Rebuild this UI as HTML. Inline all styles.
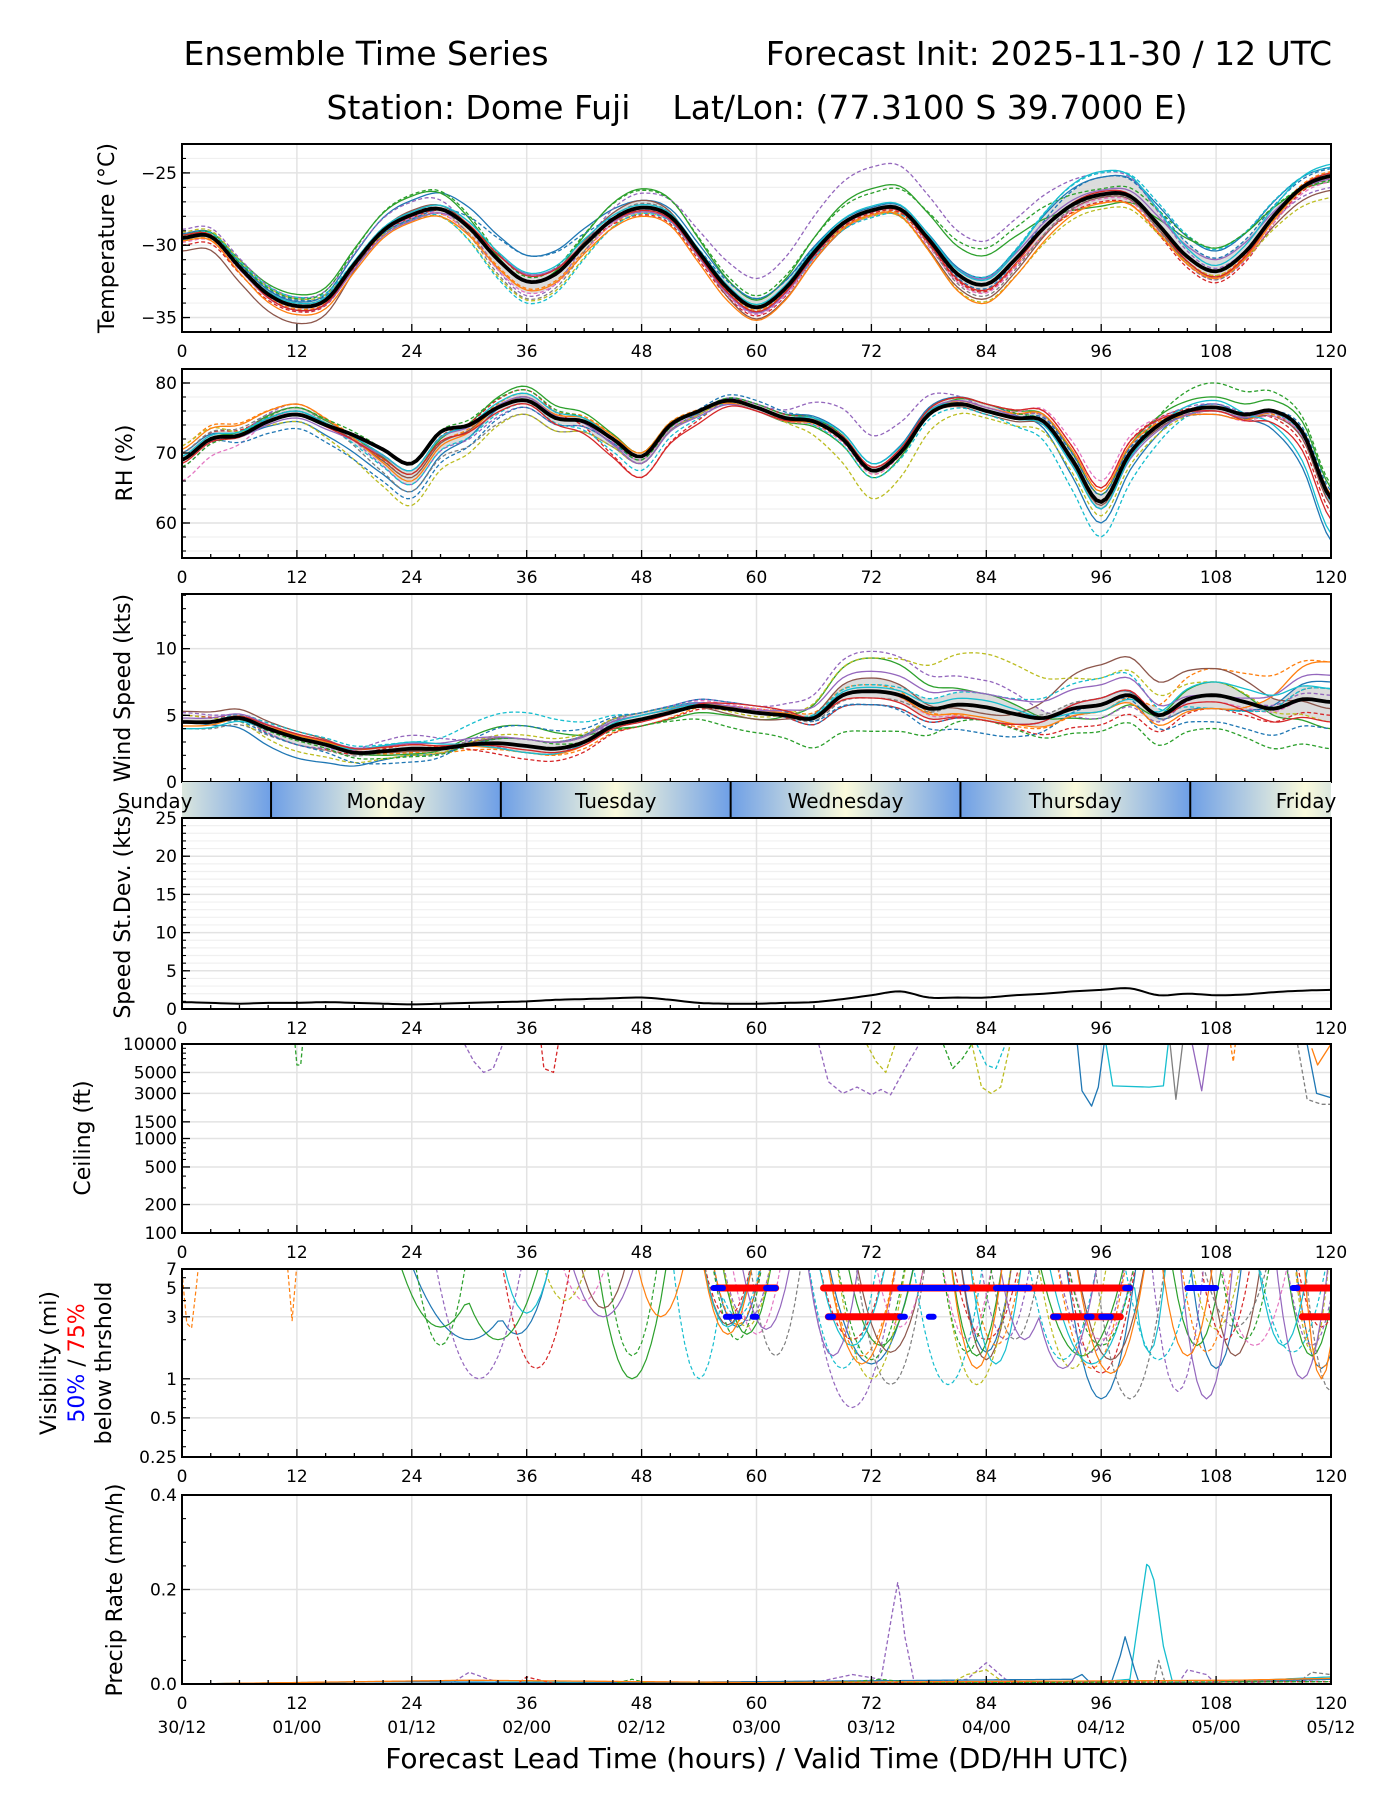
<!DOCTYPE html>
<html><head><meta charset="utf-8"><style>
html,body{margin:0;padding:0;background:#fff;}
svg{display:block;font-family:"DejaVu Sans","Liberation Sans",sans-serif;}
</style></head><body>
<svg id="chart" width="1400" height="1800" viewBox="0 0 1400 1800" xmlns="http://www.w3.org/2000/svg">
<defs>
<linearGradient id="dayGrad" x1="0" x2="1" y1="0" y2="0">
<stop offset="0" stop-color="#6e9fe6"/><stop offset="0.5" stop-color="#fbfbdc"/><stop offset="1" stop-color="#6e9fe6"/>
</linearGradient>
</defs>
<text x="366" y="65" font-size="33" text-anchor="middle">Ensemble Time Series</text>
<text x="1332" y="65" font-size="33" text-anchor="end">Forecast Init: 2025-11-30 / 12 UTC</text>
<text x="757" y="119" font-size="33" text-anchor="middle" xml:space="preserve">Station: Dome Fuji    Lat/Lon: (77.3100 S 39.7000 E)</text>
<g id="plots"></g>
<text x="757" y="1768" font-size="28" text-anchor="middle">Forecast Lead Time (hours) / Valid Time (DD/HH UTC)</text>
</svg>
<script>
// ---------- data ----------
const hours3 = [0,3,6,9,12,15,18,21,24,27,30,33,36,39,42,45,48,51,54,57,60,63,66,69,72,75,78,81,84,87,90,93,96,99,102,105,108,111,114,117,120];
const tempMean = [-29.5,-29.4,-31.5,-33.4,-34.2,-33.8,-31.3,-29,-27.9,-27.5,-28.8,-31,-32.5,-32,-30,-28.2,-27.4,-28,-30.5,-33,-34.3,-33,-30.5,-28.5,-27.6,-27.5,-29.6,-32,-32.7,-31,-28.8,-27.2,-26.5,-26.6,-28.6,-30.8,-31.8,-30.5,-28,-26,-25.2];
const rhMean = [69,72,72.5,74.5,75.5,74,72.5,70.5,68.5,73,74,76.5,77.5,75,74.5,72,69.5,74,76,77.5,76.5,75,74.5,72,67.5,70,75.5,77,76,75,74.5,69,63,70,74,76,76.5,75.5,76,73,63.5];
const windMean = [4.5,4.5,4.8,4,3.3,2.8,2.2,2.3,2.5,2.5,2.8,2.9,2.7,2.5,3,4.2,4.7,5.2,5.7,5.5,5.2,5,4.8,6.5,6.8,6.5,5.5,5.8,5.6,5.1,4.8,5.5,5.8,6.5,5,6.2,6.5,6,5.5,6.2,6];
const sdMean = [0.9,0.8,0.7,0.8,0.8,0.9,0.8,0.7,0.6,0.7,0.8,0.9,1,1.2,1.3,1.4,1.5,1.2,0.8,0.7,0.7,0.8,0.9,1.3,1.8,2.3,1.5,1.5,1.5,1.8,2,2.3,2.5,2.7,1.8,2,1.8,1.9,2.2,2.4,2.5];
const hours12 = [0,12,24,36,48,60,72,84,96,108,120];
const memberColors = ['#1f77b4','#ff7f0e','#2ca02c','#d62728','#9467bd','#8c564b','#e377c2','#7f7f7f','#bcbd22','#17becf','#1f77b4','#ff7f0e','#2ca02c','#9467bd','#17becf','#d62728'];
const memberDashed = [false,true,false,true,true,false,true,true,true,true,true,false,true,false,false,false];
const tempOffsets = [
[0.3,0.3,1,1.8,0.5,0.6,0.2,0.5,1.2,1.4,0.6],[-0.2,-0.2,-0.3,-0.5,-0.3,-0.2,-0.3,-0.4,-0.6,-0.3,0.3],
[0.2,0.8,1.3,0,1.3,0.5,1.5,2,-0.8,1.6,-0.4],[-0.5,-0.4,-0.2,0.5,-0.5,-0.6,-0.2,-0.5,-0.5,-0.8,-0.2],
[0.6,0.6,0.9,-1,1,2,3,3,1.5,0.2,-0.8],[-0.9,-1.2,0.3,0,0.5,-0.8,-0.4,-1,-0.2,-0.4,-1],
[-0.3,-0.1,-0.2,-0.8,-0.2,-0.5,-0.4,-0.6,-0.3,-0.6,-0.4],[0.1,0.2,0.2,-1.2,0.3,-0.4,0.1,-0.8,-0.1,-0.6,0.2],
[0.4,0.5,-0.4,-1.3,-0.4,0.2,-0.4,-1.2,-1,-0.3,-1.5],[0.2,0.6,-0.3,-1.5,-0.4,-0.3,-0.5,0.5,1.5,1.5,0.6],
[0,0.4,-0.3,1.8,-0.2,0.6,0,-0.3,1.2,0.9,0.5],[-0.2,-0.6,-0.5,-0.6,-0.6,-0.9,-0.3,-1.3,-0.6,-0.5,-0.1],
[0.1,0.5,1.4,0.3,1.2,0.8,1.2,2.5,0.4,1.6,-0.3],[0,-0.3,-0.4,0.5,-0.3,-0.4,-0.1,0.4,0.3,0.8,-0.2],
[-0.1,0.2,0.2,0.6,0.2,0.2,0.3,0.3,1.6,0.4,0.8],[0.2,-0.3,0,0.4,-0.2,-0.3,-0.1,-0.4,0.2,-0.4,0.2]];
const rhOffsets = [
[1,-1,-4,0.5,-1,0.5,1,1,-3,0.5,-6],[2,1.5,-2,1,0.5,0,-0.5,0.5,1,0,-1],
[0,1,-1.5,2,0.5,-0.5,-1,1,1,1.5,1.5],[1,0.5,-1,1.5,-3,0.5,0.5,1,2,0,-2],
[-1,1.5,-3,-1,-0.5,0.5,5,0.5,1,0.5,-1],[0,0.5,-2,0.5,-1,0,0.5,-0.5,-0.5,-0.5,-1],
[-3,0.5,-1,0.5,-0.5,-0.5,-0.5,0.5,3,-1,-0.5],[1,1,-4,-2,-1,0,0,0,0,-0.5,0.5],
[2,-1,-6,-2,-1,0,-4,-1,-2,-0.5,0],[0,0.5,-3,-0.5,-2,0,-1,-0.5,-5,0,-0.5],
[0,-2,-5,-1,-0.5,1,0,0,1,-1,1],[1.5,1.5,-2.5,0.5,0.5,-0.5,0,0.5,1.5,-1,0.5],
[-1,1,0,1.5,-0.5,0.5,0.5,1,-1,3.5,2],[0,-0.5,-1,0.5,-1,-0.5,0.5,0.5,-1,-0.5,0],
[0.5,0.5,-1,1,0,0,1,0,-1,1,-5],[-0.5,0,-1.5,-0.5,-3,-0.5,0.5,1,2,-0.5,-3]];
const windOffsets = [
[0,-1.5,-0.5,0.5,0.5,0,-1,-1,0.5,-1,1.5],[0,0.5,-0.3,-0.5,-0.5,0.3,0.5,-1,-0.5,2,3],
[0,0.3,-0.4,1.5,-0.5,-0.5,2.5,1,-1,1,-2],[0.5,-0.5,0.3,-1,-0.5,0,-1,-1,-1.5,-1,-1],
[0.7,-0.5,1,-0.5,0.5,0.5,3,2,-1,0,0.5],[0.8,0.5,-0.2,0.5,0.3,-0.5,1,-0.5,3,2,-0.5],
[0,0.3,0,0.5,0.5,0.3,0,-1,0.5,-0.5,0],[-0.5,-0.5,0,0.5,0.5,0,-0.5,0,0.5,-1,1],
[0.5,-1,-0.5,0.8,0.5,-0.3,2.5,4,2,1,-1.5],[0,0.5,0.5,2.5,0.5,0,0.5,1,2,-1,1],
[0,-0.5,-1,1.5,0.5,0.5,-1,-2,0,-2,-2],[-0.3,0.2,0.3,-0.5,0,0.2,0,-0.8,-0.5,-1,3],
[0,-0.2,-0.6,0.5,-0.5,-1.5,-3,-1,-2,-2.5,-3.5],[0.3,0.3,0.4,0.5,0.3,0.2,1.5,1,1.5,0,2],
[-0.5,0,0.5,-0.5,0.3,0,0.3,0.5,-0.5,1,1],[0,0.3,0.3,-0.3,-0.2,0.5,-0.5,-1,0.5,-0.5,-1.5]];
const ceilMembers = [
{c:2,d:true,p:[[11.8,10000],[12,6000],[12.4,6000],[12.6,10000]]},
{c:4,d:true,p:[[29.5,10000],[30.5,6500],[31.5,5000],[32.5,5500],[33.5,10000]]},
{c:3,d:true,p:[[37.5,10000],[37.8,5500],[38.8,5000],[39.3,10000]]},
{c:4,d:true,p:[[66.5,10000],[67.5,4000],[69,3000],[70.5,3500],[72,2900],[73,3300],[74,2900],[75.5,5500],[77,10000]]},
{c:8,d:true,p:[[71.5,10000],[72.5,6500],[73.5,5000],[74.5,10000]]},
{c:2,d:true,p:[[79.5,10000],[80.5,5500],[81.5,7000],[82.5,10000]]},
{c:8,d:true,p:[[82.5,10000],[83.5,3500],[84.5,3000],[85.5,3500],[86.5,10000]]},
{c:9,d:true,p:[[83,10000],[84,6000],[85,5500],[86,10000]]},
{c:0,d:false,p:[[93.5,10000],[94,3200],[95,2200],[95.7,3500],[96.3,10000]]},
{c:9,d:false,p:[[96.5,10000],[97.2,3600],[101,3500],[102.5,3600],[103,10000]]},
{c:7,d:false,p:[[103.2,10000],[103.8,2600],[104.5,10000]]},
{c:4,d:false,p:[[105.5,10000],[106.5,3200],[107.2,10000]]},
{c:1,d:true,p:[[109.5,10000],[109.8,6500],[110,10000]]},
{c:7,d:true,p:[[116.5,10000],[117.5,2600],[119,2300],[120,2300]]},
{c:0,d:false,p:[[117.5,10000],[118.5,3000],[120,2700]]},
{c:1,d:false,p:[[118,9000],[118.6,6000],[120,10000]]}];
const visMembers = [
{c:0,d:false,k:[[30,7,2],[35,4,2.2],[58,3,2.5],[72,5,1.3],[84,3,1.6],[96,4,0.7],[108,3,1.2],[119,3,1.2]]},
{c:1,d:true,k:[[0.8,1,2.3],[11.5,0.6,2.8],[58,3,2.6],[71,4,1.5],[85,3,1.8],[95,4,1.2],[107,3,1.6],[119,3,1.2]]},
{c:2,d:false,k:[[27,5,2.5],[33,5,2],[47,4,1],[59,3,2.2],[73,4,1.8],[83,3,1.5],[94,5,1.5],[106,3,1.8],[118,3,1.5]]},
{c:3,d:true,k:[[37,4,1.2],[57,3,3],[70,4,2],[84,4,2],[96,4,1.1],[109,3,2],[119,3,2.5]]},
{c:4,d:true,k:[[31,5,1],[59,3,2.8],[70,5,0.6],[86,3,2],[95,4,1.6],[104,3,0.8],[118,3,1.8]]},
{c:5,d:false,k:[[44,3,3.5],[57,3,2.6],[74,4,1.6],[84,3,1.4],[97,4,1.4],[110,3,1.5]]},
{c:6,d:true,k:[[42,3,4],[60,3,2.2],[75,3,2.5],[82,3,2],[96,4,2],[112,4,1.8]]},
{c:7,d:true,k:[[62,3,1.5],[74,4,0.9],[87,3,2],[99,4,0.7],[110,4,2.5],[120,3,0.8]]},
{c:8,d:true,k:[[40,3,4],[59,3,2.5],[72,4,1],[83,4,0.9],[93,4,1.2],[108,3,2.4],[118,2,1.6]]},
{c:9,d:true,k:[[54,3,1],[58,3,3],[69,4,1.2],[80,4,0.9],[92,4,1.4],[102,4,1.4],[116,4,1.6]]},
{c:9,d:false,k:[[36,3,3.2],[57,3,2.5],[70,4,1.8],[85,3,1.3],[95,5,1.3],[101,2,1.6],[115,3,1.8]]},
{c:2,d:true,k:[[27,3,1.8],[47,3,1.5],[58,3,2],[72,4,1.4],[82,3,1.6],[96,4,1.8],[111,3,2]]},
{c:4,d:false,k:[[44,4,3],[61,3,2.4],[68,3,1.5],[88,3,2],[92,4,1.2],[107,3,0.7],[117,3,1]]},
{c:1,d:false,k:[[50,3,3],[57,3,2.2],[71,4,1.3],[83,3,1.2],[97,4,1.1],[105,3,1.5],[119,2,1]]}];
const vis75Bars5 = [[56,62],[67,99],[116.5,120]];
const vis75Bars3 = [[67.5,75],[91,98],[117,120]];
const vis50Bars5 = [[55.5,56.5],[61,62],[75,81],[81.5,82],[85,88.5],[98.5,99],[105,108],[116,116.5]];
const vis50Bars3 = [[56.8,57.3],[57.8,58.2],[59.6,60],[67.5,68],[75,75.5],[78,78.5],[91,91.5],[94.5,95],[96,97]];
const precipMembers = [
{c:4,d:true,p:[[0,0],[28,0],[30,0.025],[32,0.01],[34,0],[66,0.003],[70,0.02],[73,0.01],[74,0.13],[74.8,0.22],[75.5,0.1],[76.5,0],[82,0.01],[84,0.045],[86,0.01],[88,0],[104,0],[105,0.03],[107,0.02],[108,0],[120,0.01]]},
{c:9,d:false,p:[[0,0],[20,0.005],[60,0.002],[96,0.005],[99,0.01],[100,0.15],[100.8,0.26],[101.5,0.22],[102.5,0.08],[103.5,0],[120,0.015]]},
{c:0,d:false,p:[[0,0],[22,0.005],[40,0.002],[93,0.01],[94,0.02],[95,0],[97,0],[98,0.06],[98.5,0.1],[99.5,0.03],[100,0],[120,0.01]]},
{c:7,d:true,p:[[0,0],[101.5,0],[102,0.05],[102.7,0],[117,0.01],[118,0.025],[120,0.02]]},
{c:8,d:true,p:[[0,0],[80,0],[82,0.02],[84,0.03],[86,0],[120,0]]},
{c:3,d:true,p:[[0,0],[35,0],[36,0.015],[38,0.005],[39,0],[120,0.005]]},
{c:2,d:true,p:[[0,0],[45,0],[47,0.01],[49,0],[70,0.005],[73,0.01],[76,0.003],[120,0.005]]},
{c:1,d:false,p:[[0,0],[30,0.008],[60,0.003],[90,0.006],[110,0.008],[120,0.012]]}];
const xTicks = [0,12,24,36,48,60,72,84,96,108,120];
const dateLabels = ['30/12','01/00','01/12','02/00','02/12','03/00','03/12','04/00','04/12','05/00','05/12'];
const dayNames = ['Sunday','Monday','Tuesday','Wednesday','Thursday','Friday'];
const dayBoundaryHour = 9.3;

// ---------- helpers ----------
const NS='http://www.w3.org/2000/svg';
const root=document.getElementById('plots');
const X0=182, X1=1331;
const TF=17, LF=22;
function xs(h){return X0+(h/120)*(X1-X0);}
function mk(tag,attrs,parent){const e=document.createElementNS(NS,tag);for(const k in attrs)e.setAttribute(k,attrs[k]);(parent||root).appendChild(e);return e;}
function makeY(p){
  if(p.log){const a=Math.log(p.min),b=Math.log(p.max);return v=>p.bottom-(Math.log(Math.max(v,p.min*0.5))-a)/(b-a)*(p.bottom-p.top);}
  return v=>p.bottom-(v-p.min)/(p.max-p.min)*(p.bottom-p.top);
}
function interp(hs,vals,h){
  if(h<=hs[0])return vals[0];
  for(let i=1;i<hs.length;i++){if(h<=hs[i]){const t=(h-hs[i-1])/(hs[i]-hs[i-1]);const s=(1-Math.cos(Math.PI*t))/2;return vals[i-1]+(vals[i]-vals[i-1])*s;}}
  return vals[vals.length-1];
}
function lin(hs,vals,h){
  if(h<=hs[0])return vals[0];
  for(let i=1;i<hs.length;i++){if(h<=hs[i]){const t=(h-hs[i-1])/(hs[i]-hs[i-1]);return vals[i-1]+(vals[i]-vals[i-1])*t;}}
  return vals[vals.length-1];
}
function smooth(hs,vals,h){
  let i=1;while(i<hs.length-1&&h>hs[i])i++;
  const t=(h-hs[i-1])/(hs[i]-hs[i-1]);
  const p0=vals[Math.max(i-2,0)],p1=vals[i-1],p2=vals[i],p3=vals[Math.min(i+1,vals.length-1)];
  const t2=t*t,t3=t2*t;
  return 0.5*((2*p1)+(-p0+p2)*t+(2*p0-5*p1+4*p2-p3)*t2+(-p0+3*p1-3*p2+p3)*t3);
}
function pathD(pts){return pts.map((p,i)=>(i?'L':'M')+p[0].toFixed(1)+','+p[1].toFixed(1)).join('');}
let clipId=0;
function panel(p){
  const g=mk('g',{});
  
  
  const id='clip'+(clipId++);
  const cp=mk('clipPath',{id:id},g);mk('rect',{x:X0,y:p.top,width:X1-X0,height:p.bottom-p.top},cp);
  p.g=g;p.y=makeY(p);
  (p.minorGrid||[]).forEach(v=>{const l=mk('line',{x1:X0,x2:X1,y1:p.y(v),y2:p.y(v),stroke:'#f0f0f0','stroke-width':1.2},g);
    
    });
  xTicks.forEach(h=>{const l=mk('line',{x1:xs(h),x2:xs(h),y1:p.top,y2:p.bottom,stroke:'#e3e3e3','stroke-width':1.5},g);
    
    });
  p.ticks.forEach(v=>{const l=mk('line',{x1:X0,x2:X1,y1:p.y(v),y2:p.y(v),stroke:'#e3e3e3','stroke-width':1.5},g);
    
    });
  p.plot=mk('g',{'clip-path':'url(#'+id+')'},g);
  return p;
}
function finish(p,labels,tickFmt){
  const g=p.g;
  const fr=mk('rect',{x:X0,y:p.top,width:X1-X0,height:p.bottom-p.top,fill:'none',stroke:'#000','stroke-width':2},g);
  
  
  for(let h=0;h<=120;h+=3){const major=h%12===0;mk('line',{x1:xs(h),x2:xs(h),y1:p.bottom,y2:p.bottom-(major?8:4),stroke:'#000','stroke-width':1.3},g);}
  p.ticks.forEach((v,i)=>{mk('line',{x1:X0,x2:X0+8,y1:p.y(v),y2:p.y(v),stroke:'#000','stroke-width':1.3},g);
    const t=mk('text',{x:X0-5,y:p.y(v)+6,'font-size':TF,'text-anchor':'end'},g);t.textContent=tickFmt[i];
    
    });
  (p.minorTicks||[]).forEach(v=>mk('line',{x1:X0,x2:X0+4,y1:p.y(v),y2:p.y(v),stroke:'#000','stroke-width':1.1},g));
  if(labels){xTicks.forEach(h=>{const t=mk('text',{x:xs(h),y:p.bottom+25,'font-size':TF,'text-anchor':'middle'},g);t.textContent=String(h);
    
    });}
}
function ylabel(text,x,cy,fs,name){const t=mk('text',{x:0,y:0,'font-size':fs||LF,'text-anchor':'middle',transform:'translate('+x+','+cy+') rotate(-90)'});t.textContent=text;
  
  return t;}
function memberLine(p,pts,color,dashed,w){
  const e=mk('path',{d:pathD(pts),fill:'none',stroke:color,'stroke-width':w||1.3,'stroke-dasharray':dashed?'4,2.5':'none','stroke-linejoin':'round'},p.plot);
  
  
  return e;
}
function ensemblePanel(p,mean,offsets){
  const step=0.5;const members=offsets.map(o=>{const pts=[];for(let h=0;h<=120;h+=step){pts.push([h,smooth(hours3,mean,h)+interp(hours12,o,h)]);}return pts;});
  const up=[],lo=[];
  for(let i=0;i<members[0].length;i++){const vs=members.map(m=>m[i][1]).sort((a,b)=>a-b);const h=members[0][i][0];
    up.push([xs(h),p.y(vs[Math.floor(vs.length*0.7)])]);lo.push([xs(h),p.y(vs[Math.floor(vs.length*0.3)])]);}
  const sh=mk('path',{d:pathD(up.concat(lo.reverse()))+'Z',fill:'#dcdcdc',stroke:'none'},p.plot);
  
  
  members.forEach((m,i)=>memberLine(p,m.map(q=>[xs(q[0]),p.y(q[1])]),memberColors[i],memberDashed[i]));
  const mp=[];for(let h=0;h<=120;h+=step)mp.push([xs(h),p.y(smooth(hours3,mean,h))]);
  const ml=mk('path',{d:pathD(mp),fill:'none',stroke:'#000','stroke-width':3.8,'stroke-linejoin':'round'},p.plot);
  
  
}
function range(a,b,s){const r=[];for(let v=a;v<=b+1e-9;v+=s)r.push(+v.toFixed(3));return r;}

// ---------- Temperature ----------
const pT=panel({name:'temperature',top:144,bottom:332,min:-36,max:-23,ticks:[-35,-30,-25],minorGrid:range(-36,-23,1),minorTicks:range(-36,-23,1)});
ensemblePanel(pT,tempMean,tempOffsets);
finish(pT,true,['\u221235','\u221230','\u221225']);
ylabel('Temperature (\u00b0C)',114,238,LF,'temperature-axis-title');

// ---------- RH ----------
const pR=panel({name:'rh',top:369,bottom:558,min:55,max:82,ticks:[60,70,80],minorGrid:range(56,82,2),minorTicks:range(56,82,2)});
ensemblePanel(pR,rhMean,rhOffsets);
finish(pR,true,['60','70','80']);
ylabel('RH (%)',132,463,LF,'rh-axis-title');

// ---------- Wind ----------
const pW=panel({name:'wind-speed',top:594,bottom:782,min:0,max:14.1,ticks:[0,5,10],minorTicks:range(0,14,1)});
ensemblePanel(pW,windMean,windOffsets);
finish(pW,false,['0','5','10']);
ylabel('Wind Speed (kts)',130,688,LF,'wind-axis-title');

// ---------- Day band ----------
(function(){
  const g=mk('g',{});
  
  
  const cp=mk('clipPath',{id:'bandclip'},g);mk('rect',{x:X0,y:782,width:X1-X0,height:36},cp);
  const inner=mk('g',{'clip-path':'url(#bandclip)'},g);
  dayNames.forEach((n,i)=>{
    const h0=dayBoundaryHour+(i-1)*24;
    const r=mk('rect',{x:xs(h0),y:782,width:xs(h0+24)-xs(h0),height:36,fill:'url(#dayGrad)'},inner);
    
    
    if(i>0){mk('line',{x1:xs(h0),x2:xs(h0),y1:782,y2:818,stroke:'#000','stroke-width':2},inner);}
    let cx=xs(h0+12), parent=inner;
    if(i===0){cx=155;parent=g;}
    if(i===dayNames.length-1){cx=1306;parent=g;}
    const t=mk('text',{x:cx,y:808,'font-size':20,'text-anchor':'middle'},parent);t.textContent=n;
    
    
  });
})();

// ---------- Speed SD ----------
const pS=panel({name:'speed-stdev',top:818,bottom:1009,min:0,max:25,ticks:[0,5,10,15,20,25],minorGrid:range(0,25,1),minorTicks:range(0,25,1)});
(function(){const pts=[];for(let h=0;h<=120;h+=0.5)pts.push([xs(h),pS.y(smooth(hours3,sdMean,h))]);
  const e=mk('path',{d:pathD(pts),fill:'none',stroke:'#000','stroke-width':2},pS.plot);
  
  })();
finish(pS,true,['0','5','10','15','20','25']);
ylabel('Speed St.Dev. (kts)',130,913,LF,'speed-stdev-axis-title');

// ---------- Ceiling ----------
const pC=panel({name:'ceiling',top:1044,bottom:1233,min:100,max:10000,log:true,ticks:[100,200,500,1000,1500,3000,5000,10000],
  minorTicks:[300,400,600,700,800,900,2000,4000,6000,7000,8000,9000]});
ceilMembers.forEach(m=>memberLine(pC,m.p.map(q=>[xs(q[0]),pC.y(q[1])]),memberColors[m.c],m.d));
finish(pC,true,['100','200','500','1000','1500','3000','5000','10000']);
ylabel('Ceiling (ft)',90,1138,LF,'ceiling-axis-title');

// ---------- Visibility ----------
const pV=panel({name:'visibility',top:1269,bottom:1457,min:0.25,max:7,log:true,ticks:[0.25,0.5,1,3,5,7],minorTicks:[0.3,0.4,0.6,0.7,0.8,0.9,2,4,6]});
visMembers.forEach(m=>{
  const pts=[];
  for(let h=0;h<=120;h+=0.5){let v=12;m.k.forEach(k=>{const u=(h-k[0])/k[1];if(Math.abs(u)<1){const f=1-u*u;const lv=Math.log(12)+(Math.log(k[2])-Math.log(12))*f;v=Math.min(v,Math.exp(lv));}});pts.push([xs(h),pV.y(v)]);}
  memberLine(pV,pts,memberColors[m.c],m.d,1.2);
});
function bars(arr,val,color,w,name){arr.forEach(b=>{const l=mk('line',{x1:xs(b[0]),x2:xs(b[1]),y1:pV.y(val),y2:pV.y(val),stroke:color,'stroke-width':w,'stroke-linecap':'round'},pV.plot);
  
  });}
bars(vis75Bars5,5,'#ff0000',7,'vis-75pct-bar-5mi');
bars(vis75Bars3,3,'#ff0000',7,'vis-75pct-bar-3mi');
bars(vis50Bars5,5,'#0000ff',6,'vis-50pct-bar-5mi');
bars(vis50Bars3,3,'#0000ff',6,'vis-50pct-bar-3mi');
finish(pV,true,['0.25','0.5','1','3','5','7']);
(function(){
  ylabel('Visibility (mi)',56,1363,LF,'visibility-axis-title');
  const t=mk('text',{x:0,y:0,'font-size':LF,'text-anchor':'middle',transform:'translate(84,1363) rotate(-90)'});
  
  
  const a=mk('tspan',{fill:'#0000ff'},t);a.textContent='50%';
  const b=mk('tspan',{fill:'#000'},t);b.textContent=' / ';
  const c=mk('tspan',{fill:'#ff0000'},t);c.textContent='75%';
  ylabel('below thrshold',111,1363,LF,'visibility-threshold-subtitle');
})();

// ---------- Precip ----------
const pP=panel({name:'precip-rate',top:1495,bottom:1684,min:0,max:0.4,ticks:[0,0.2,0.4],minorTicks:range(0,0.4,0.05)});
precipMembers.forEach(m=>{
  const pts=[];for(let h=0;h<=120;h+=0.25){pts.push([xs(h),pP.y(lin(m.p.map(q=>q[0]),m.p.map(q=>q[1]),h))]);}
  memberLine(pP,pts,memberColors[m.c],m.d,1.3);
});
finish(pP,true,['0.0','0.2','0.4']);
ylabel('Precip Rate (mm/h)',122,1590,LF,'precip-axis-title');
xTicks.forEach((h,i)=>{const t=mk('text',{x:xs(h),y:1733,'font-size':TF,'text-anchor':'middle'});t.textContent=dateLabels[i];
  
  });
</script>
</body></html>
